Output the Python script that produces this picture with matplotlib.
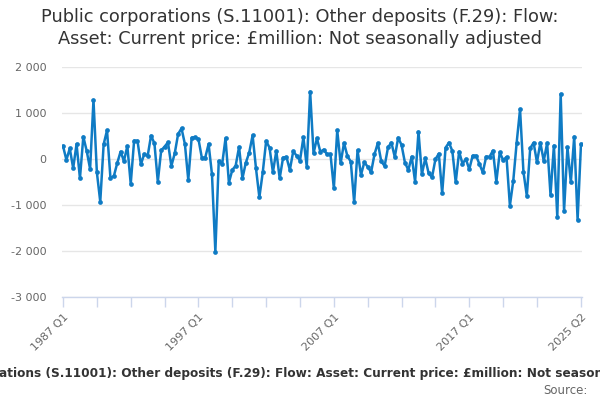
import matplotlib
matplotlib.use("Agg")
import matplotlib.pyplot as plt

title = "Public corporations (S.11001): Other deposits (F.29): Flow:\nAsset: Current price: £million: Not seasonally adjusted"
footer = "Public corporations (S.11001): Other deposits (F.29): Flow: Asset: Current price: £million: Not seasonally adjusted"

start_year = 1987
values = [
    283, -20, 230, -200, 326, -420, 485, 174, -217, 1283,
    -290, -928, 319, 623, -406, -377, -94, 159, -43, 283,
    -543, 398, 393, -116, 109, 65, 507, 341, -493, 188,
    268, 362, -152, 123, 543, 667, 326, -455, 464, 471,
    435, 29, 29, 326, -333, -2015, -43, -116, 449, -514,
    -239, -145, 261, -420, -80, 138, 514, -203, -833, -290,
    391, 246, -290, 174, -420, 29, 43, -239, 167, 72,
    -36, 471, -167, 1464, 123, 449, 159, 203, 101, 109,
    -638, 623, -94, 348, 65, -58, -942, 188, -348, -72,
    -167, -290, 101, 348, -51, -152, 254, 355, 43, 464,
    304, -80, -239, 51, -493, 594, -333, 14, -311, -398,
    -7, 116, -746, 246, 355, 174, -507, 159, -101, 0,
    -225, 72, 72, -109, -290, 51, 51, 181, -493, 145,
    -22, 43, -1015, -471, 355, 1080, -275, -804, 232, 355,
    -72, 355, -43, 348, -783, 290, -1261, 1413, -1130, 254,
    -507, 485, -1326, 326,
]
quarters = [f"{start_year + i // 4} Q{i % 4 + 1}" for i in range(len(values))]
label_quarters = ["1987 Q1", "1997 Q1", "2007 Q1", "2017 Q1", "2025 Q2"]
y_ticks = [-3000, -2000, -1000, 0, 1000, 2000]

fig = plt.figure(figsize=(6, 4), dpi=100)
ax = fig.add_axes([62/600, 1 - 297/400, 520/600, 230/400])

x = list(range(len(values)))
ax.plot(x, values, color="#0f7bc4", linewidth=1.8, marker="o", markersize=3.4,
        markeredgewidth=0, zorder=3)

ax.set_xlim(-0.3, len(values) - 1 + 0.3)
ax.set_ylim(-3000, 2000)
ax.set_yticks(y_ticks)
ax.set_yticklabels([f"{v:,}".replace(",", " ") for v in y_ticks], color="#666666", fontsize=8)
ax.yaxis.grid(True, color="#e6e6e6", linewidth=1)
ax.set_axisbelow(True)
ax.tick_params(axis="y", length=0, pad=11)

minor = [m for m in range(0, len(values), 10) if m <= 140] + [len(values) - 1]
ax.set_xticks(minor, minor=True)
ax.tick_params(axis="x", which="minor", length=7, color="#ccd6eb", width=1)
label_pos = [quarters.index(q) for q in label_quarters]
ax.set_xticks(label_pos)
ax.set_xticklabels(label_quarters, rotation=45, ha="right", va="top",
                   rotation_mode="anchor", color="#666666", fontsize=8)
ax.tick_params(axis="x", which="major", length=7, color="#ccd6eb", width=1, pad=4)

for s in ["top", "right", "left"]:
    ax.spines[s].set_visible(False)
ax.spines["bottom"].set_color("#ccd6eb")
ax.spines["bottom"].set_linewidth(1)

fig.text(0.5, 1 - 28/400, title, ha="center", va="center", fontsize=12.8,
         color="#333333", linespacing=1.25)
fig.text(0.5, 1 - 373/400, footer, ha="center", va="center", fontsize=8.75,
         fontweight="bold", color="#333333")
fig.text(588/600, 1 - 391/400, "Source:", ha="right", va="center", fontsize=8.5,
         color="#666666")

fig.savefig("out.png", dpi=100)
